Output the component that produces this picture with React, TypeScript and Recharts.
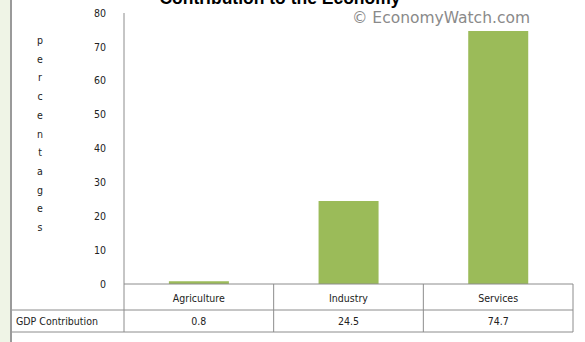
import { BarChart, Bar, XAxis, YAxis } from 'recharts';

const categories = ['Agriculture', 'Industry', 'Services'];
const gdpShare = [0.8, 24.5, 74.7];
const shareLabels = ['0.8', '24.5', '74.7'];
const yTicks = [0, 10, 20, 30, 40, 50, 60, 70, 80];
const yLabel = 'percentages';

const data = categories.map((name, i) => ({ name, value: gdpShare[i], label: shareLabels[i] }));

const W = 585;
const H = 342;
const PLOT_LEFT = 124;
const PLOT_RIGHT = 573;
const PLOT_BOTTOM = 284;
const BAND = (PLOT_RIGHT - PLOT_LEFT) / categories.length;
const GRID = '#8c8c8c';
const FONT = '"DejaVu Sans Condensed", "DejaVu Sans", sans-serif';

function TableTick(props: any) {
    const { x, index, payload } = props;
    const row = data[index];
    const right = x + BAND / 2;
    return (
        <g>
            <text x={x} y={302} textAnchor="middle" fontSize={10.5} fill="#222" fontFamily={FONT}>
                {payload.value}
            </text>
            <text x={x} y={325} textAnchor="middle" fontSize={10.5} fill="#222" fontFamily={FONT}>
                {row ? row.label : ''}
            </text>
            <line x1={right} x2={right} y1={PLOT_BOTTOM} y2={332} stroke={GRID} />
        </g>
    );
}

function StackedLabel() {
    return (
        <g>
            {yLabel.split('').map((ch, i) => (
                <text key={i} x={40} y={44 + i * 18.7} textAnchor="middle" fontSize={10.5} fill="#222" fontFamily={FONT}>
                    {ch}
                </text>
            ))}
        </g>
    );
}

export default function App() {
    return (
        <div style={{ position: 'absolute', left: 0, top: 0, width: W, height: H, background: '#fff', overflow: 'hidden' }}>
            <div style={{ position: 'absolute', left: 0, top: 0, width: 10, height: H, background: '#eff4e6' }} />
            <div style={{ position: 'absolute', left: 10, top: 0, width: 2, height: H, background: '#9a9a9a' }} />
            <BarChart
                width={W}
                height={H}
                data={data}
                margin={{ top: 13, right: W - PLOT_RIGHT, left: 0, bottom: 0 }}
                barCategoryGap="30%"
            >
                {/* title is cropped at the top edge in the original */}
                <text x={280} y={4} textAnchor="middle" fontSize={17.5} fontWeight="bold" fill="#000" fontFamily="Liberation Sans, Arial, sans-serif">
                    Contribution to the Economy
                </text>
                <text x={530} y={23} textAnchor="end" fontSize={15.5} fill="#8a8a8a" fontFamily="DejaVu Sans, sans-serif">
                    © EconomyWatch.com
                </text>
                <XAxis
                    dataKey="name"
                    height={H - PLOT_BOTTOM}
                    axisLine={{ stroke: GRID }}
                    tickLine={false}
                    interval={0}
                    tick={<TableTick />}
                />
                <YAxis
                    width={PLOT_LEFT}
                    domain={[0, 80]}
                    ticks={yTicks}
                    axisLine={{ stroke: GRID }}
                    tickLine={false}
                    tickMargin={12}
                    tick={{ fill: '#222', fontSize: 10.5, fontFamily: FONT }}
                    label={<StackedLabel />}
                />
                <line x1={PLOT_LEFT} x2={PLOT_LEFT} y1={PLOT_BOTTOM} y2={332} stroke={GRID} />
                <line x1={12} x2={PLOT_RIGHT} y1={310} y2={310} stroke={GRID} />
                <line x1={12} x2={PLOT_RIGHT} y1={332} y2={332} stroke={GRID} />
                <text x={16} y={325} fontSize={10.5} fill="#222" fontFamily={FONT}>
                    GDP Contribution
                </text>
                <Bar dataKey="value" fill="#9bbb59" isAnimationActive={false} />
            </BarChart>
        </div>
    );
}
